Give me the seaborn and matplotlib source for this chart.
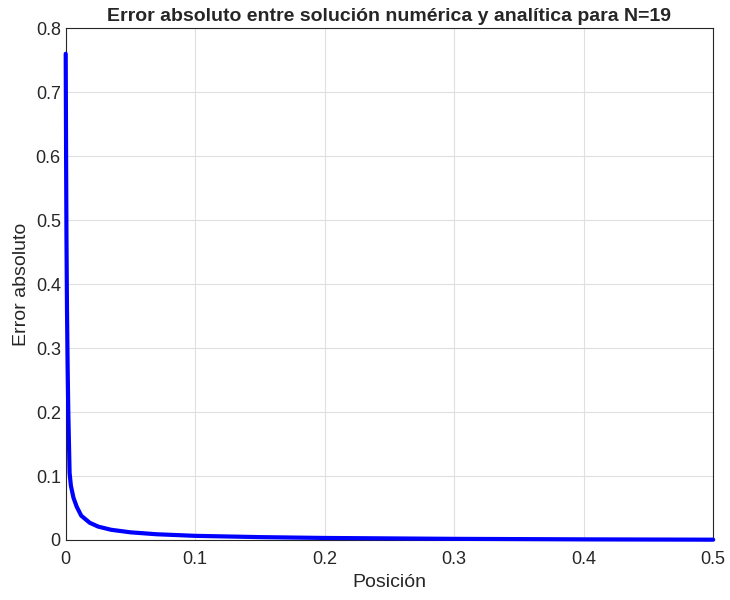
import matplotlib
matplotlib.use("Agg")
import matplotlib.pyplot as plt
import seaborn as sns
import pandas as pd

x_pos = [0, 0.0003, 0.0006, 0.001, 0.0015, 0.002, 0.003, 0.004, 0.006, 0.0085, 0.012, 0.0185, 0.025, 0.035, 0.05, 0.07, 0.1, 0.15, 0.2, 0.3, 0.4, 0.5]
err = [0.76, 0.6, 0.47, 0.36, 0.27, 0.2, 0.105, 0.085, 0.066, 0.052, 0.038, 0.027, 0.021, 0.016, 0.012, 0.009, 0.0065, 0.0045, 0.0032, 0.0018, 0.001, 0.0005]

sns.set_theme(style="whitegrid")
plt.rcParams['font.family'] = ['Liberation Sans', 'DejaVu Sans']
df = pd.DataFrame({"x": x_pos, "y": err})

fig, ax = plt.subplots(figsize=(7.3, 6), dpi=100)
fig.subplots_adjust(left=0.09, right=0.977, top=0.953, bottom=0.1)
sns.lineplot(data=df, x="x", y="y", ax=ax, color="#0000ff", linewidth=3)
for ln in ax.get_lines():
    ln.set_clip_on(False)
    ln.set_zorder(5)
ax.set_xlim(0, 0.5)
ax.set_ylim(0, 0.8)
ax.set_xticks([0, 0.1, 0.2, 0.3, 0.4, 0.5])
ax.set_xticklabels(["0", "0.1", "0.2", "0.3", "0.4", "0.5"])
ax.set_yticks([0, 0.1, 0.2, 0.3, 0.4, 0.5, 0.6, 0.7, 0.8])
ax.set_yticklabels(["0", "0.1", "0.2", "0.3", "0.4", "0.5", "0.6", "0.7", "0.8"])
ax.grid(True, color="#dfdfdf", linewidth=0.8)
for s in ax.spines.values():
    s.set_color("#262626"); s.set_linewidth(0.8); s.set_visible(True)
ax.tick_params(direction="in", length=4, colors="#262626", labelsize=13, labelcolor="#262626")
ax.tick_params(axis="x", pad=8)
ax.set_xlabel("Posición", fontsize=14, color="#262626")
ax.set_ylabel("Error absoluto", fontsize=14, color="#262626")
ax.set_title("Error absoluto entre solución numérica y analítica para N=19", fontsize=14, fontweight="bold", pad=5)
fig.savefig("out.png")
